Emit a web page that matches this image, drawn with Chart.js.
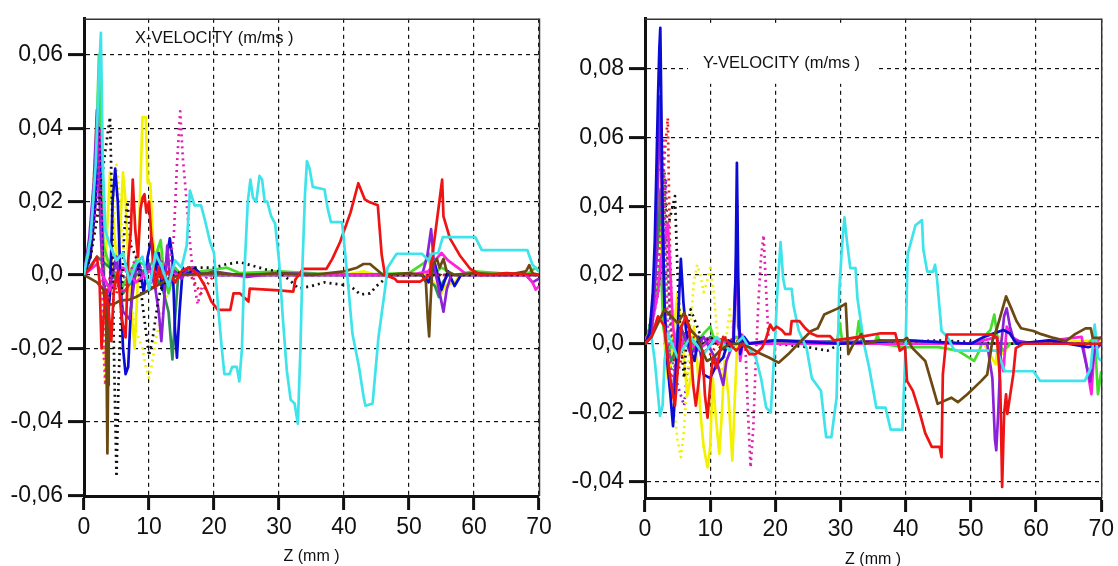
<!DOCTYPE html>
<html><head><meta charset="utf-8">
<script src="https://cdn.jsdelivr.net/npm/chart.js@4"></script>
<style>
html,body{margin:0;padding:0;background:#fff;overflow:hidden}
#wrap{position:relative;width:1118px;height:566px;background:#fff}
canvas{position:absolute;top:0}
#cL{left:0}
#cR{left:560px}
</style></head><body>
<div id="wrap"><canvas id="cL" width="560" height="566"></canvas><canvas id="cR" width="558" height="566"></canvas></div>
<script>
// ---------- tick values & labels ----------
const zTicks = [0,10,20,30,40,50,60,70];
const zTickLabels = ['0','10','20','30','40','50','60','70'];
const xvTicks = [-0.06,-0.04,-0.02,0,0.02,0.04,0.06];
const xvTickLabels = ['-0,06','-0,04','-0,02','0,0','0,02','0,04','0,06'];
const yvTicks = [-0.04,-0.02,0,0.02,0.04,0.06,0.08];
const yvTickLabels = ['-0,04','-0,02','0,0','0,02','0,04','0,06','0,08'];
const xvTitle = 'X-VELOCITY (m/ms )';
const yvTitle = 'Y-VELOCITY (m/ms )';
const zTitle = 'Z (mm )';

// ---------- X-VELOCITY series: [z (mm), v (m/ms)] ----------
const xCyan = [[0,0],[1,0.01],[1.8,0.03],[2.3,0.055],[2.6,0.066],[2.9,0.03],[3.3,0.012],[4,0.008],[5,0.004],[6,0.006],[7,-0.002],[8,0.003],[9,0.005],[10,-0.004],[11,0.006],[12,0.002],[13,-0.003],[14,0.004],[15,0.002],[15.8,0.008],[16.3,0.023],[17,0.019],[18,0.019],[18.6,0.015],[19.4,0.009],[20,0.006],[20.6,-0.008],[21.2,-0.02],[21.6,-0.027],[22.4,-0.027],[22.8,-0.025],[23.5,-0.025],[23.9,-0.029],[24.3,-0.02],[24.6,-0.002],[25.2,0.02],[25.6,0.026],[26,0.021],[26.5,0.02],[27,0.027],[27.4,0.026],[27.8,0.02],[28.2,0.02],[28.8,0.016],[29.4,0.014],[30,0.004],[30.6,-0.012],[31.2,-0.026],[31.8,-0.034],[32.4,-0.035],[32.9,-0.0405],[33.3,-0.02],[33.6,0.002],[34,0.022],[34.3,0.031],[34.7,0.029],[35.2,0.024],[37,0.0233],[37.5,0.018],[38,0.0144],[39.7,0.0144],[40.5,0],[41.3,-0.016],[42.3,-0.025],[43,-0.033],[43.3,-0.0356],[44.4,-0.035],[45.3,-0.017],[46.3,-0.004],[46.7,0.002],[48.1,0.0058],[52,0.0058],[53,0.004],[53.5,0.0058],[54.5,0.006],[55.2,0.0103],[60.2,0.0103],[61.2,0.0068],[68.2,0.0068],[69,0.0028],[70,0.001]];
const xRed = [[0,0],[1,0.002],[2,0.005],[2.4,-0.002],[2.7,-0.02],[3,-0.012],[3.4,-0.004],[3.8,-0.01],[4.2,-0.018],[4.6,-0.004],[5.2,0.001],[5.8,-0.012],[6.4,-0.017],[6.8,0.004],[7.2,0.012],[7.5,0.026],[7.9,0.012],[8.3,0.005],[8.7,0.018],[9,0.021],[9.3,0.022],[9.6,0.017],[10,0.02],[10.3,0.012],[10.6,0.004],[11,-0.003],[11.5,0.002],[12,-0.001],[13,0.001],[14,-0.002],[15,0.001],[16,0.002],[17,0.001],[17.6,0],[18.6,-0.003],[19.6,-0.0072],[20.6,-0.0095],[22.5,-0.0095],[23,-0.005],[24,-0.005],[25.3,-0.0072],[25.5,-0.0037],[30,-0.0042],[32.2,-0.0045],[32.5,-0.0013],[33.7,0.0017],[37.3,0.0017],[38.2,0.0044],[39.4,0.009],[41,0.017],[42.2,0.025],[43.2,0.0206],[44,0.0198],[45.2,0.019],[45.8,0.0055],[46.3,0],[47.8,-0.001],[48.2,-0.0018],[51.7,-0.0018],[53.2,0],[54.6,0.019],[55.1,0.026],[55.3,0.016],[56.3,0.01],[57.8,0.0054],[59.4,0.0017],[61,0],[65,0.0005],[70,0]];
const xBrown = [[0,0],[1,-0.001],[2,-0.002],[3,-0.004],[3.4,-0.01],[3.5,-0.03],[3.6,-0.0486],[3.7,-0.03],[3.8,-0.008],[4.5,-0.008],[5.5,-0.007],[7,-0.0067],[8,-0.006],[9.6,-0.0045],[11.7,-0.0024],[13,-0.001],[14.8,0],[20,0.0005],[25,0],[30,0.0005],[35,0],[40,0.001],[42,0.002],[43,0.003],[44,0.003],[45,0.0015],[46,0],[50,0.0005],[52,0],[52.6,-0.002],[52.9,-0.012],[53.1,-0.0167],[53.3,-0.008],[53.6,0.0027],[54.3,0.0044],[54.7,0.002],[55.3,0.0044],[55.8,0.001],[57,0],[60,0.0005],[65,0],[68,0.001],[68.5,0.0027],[69,0.0005],[70,0]];
const xBlackDot = [[0,0],[1,0.005],[2,0.015],[3,0.03],[3.6,0.038],[4,0.043],[4.3,0.02],[4.6,-0.02],[5,-0.055],[5.3,-0.03],[5.7,-0.01],[6.2,0.012],[6.7,0.02],[7.2,0.008],[8,0.005],[8.5,0],[9,-0.008],[9.5,-0.015],[10,-0.022],[10.5,-0.018],[11,-0.012],[11.5,-0.006],[12,-0.003],[13,-0.001],[14,0],[15,0.001],[16,0.002],[18,0.002],[20,0.002],[22,0.003],[24,0.0035],[26,0.0025],[28,0.0015],[30,0.001],[32,-0.002],[33,-0.0037],[35,-0.003],[37,-0.002],[39,-0.0025],[41,-0.003],[42.5,-0.0053],[44,-0.005],[45,-0.003],[47,0],[50,0],[70,0]];
const xYellow = [[0,0],[1,0.01],[1.5,0.025],[2,0.045],[2.3,0.03],[2.6,0.01],[3,-0.005],[3.5,0.01],[4,0.028],[4.5,0.015],[5,0.005],[5.5,0.01],[6,0.028],[6.4,0.02],[6.8,0.005],[7.3,-0.01],[7.8,-0.02],[8.2,-0.005],[8.6,0.02],[9,0.043],[9.5,0.043],[9.8,0.025],[10.2,0.025],[10.6,0.01],[11,0.003],[11.5,0.008],[12,-0.004],[13,0.002],[14,-0.002],[15,0.001],[17,0.001],[20,0],[30,0.0005],[40,0],[43,0.001],[45,0],[53,0],[55,-0.005],[55.5,-0.003],[57,-0.002],[58,0],[70,0]];
const xYellowDot = [[0,0],[1,0.005],[2,0.02],[2.5,0.035],[2.8,0.01],[3,-0.02],[3.2,-0.03],[3.5,-0.015],[4,-0.005],[4.5,0.01],[5,0.03],[5.5,0.02],[6,0.008],[7,-0.005],[8,-0.015],[9,-0.02],[9.5,-0.025],[10,-0.028],[10.5,-0.024],[11,-0.018],[12,-0.01],[13,-0.004],[14,0],[20,0],[70,0]];
const xBlue = [[0,0],[1,0.005],[1.8,0.02],[2.3,0.04],[2.6,0.02],[3,0],[3.5,-0.015],[4,-0.005],[4.4,0.02],[4.8,0.029],[5.2,0.02],[5.6,0],[6,-0.02],[6.4,-0.027],[6.8,-0.025],[7.2,-0.01],[7.6,0],[8.5,0.003],[9.2,-0.005],[9.8,0.005],[10.4,0.01],[11,0],[11.5,0.006],[12,-0.004],[12.5,0.002],[13.2,0.01],[13.6,0.005],[14,-0.015],[14.3,-0.0225],[14.7,-0.01],[15.2,0.002],[16,0],[17,0.002],[18,0],[30,0],[45,0],[52,0],[53,-0.002],[54,0.003],[55,-0.004],[56,0.001],[57,-0.003],[58,0],[70,0]];
const xPurple = [[0,0],[0.8,0.01],[1.5,0.025],[2,0.045],[2.4,0.02],[2.8,0.003],[3.2,-0.006],[4,-0.003],[5,0.005],[6,-0.01],[7,-0.012],[7.5,-0.005],[8,0.002],[9,0],[10,0.003],[11,-0.004],[11.5,-0.01],[11.9,-0.018],[12.3,-0.008],[12.8,0.008],[13.3,-0.002],[14,0.001],[15,-0.001],[16,0.002],[17,0.001],[18,0],[20,0.001],[25,-0.0005],[30,0.0005],[40,0],[50,0],[52,0],[52.8,0.005],[53.4,0.0125],[53.9,0.002],[54.5,-0.003],[55.3,-0.01],[55.8,-0.004],[56.5,0],[60,0],[68,0],[69,-0.002],[70,-0.001]];
const xGreen = [[0,0],[1,0.01],[1.8,0.03],[2.3,0.06],[2.6,0.03],[3,0.008],[4,0.002],[6,-0.003],[8,0.004],[10,0.002],[11,0.005],[11.8,0.0095],[12.2,0.002],[13,-0.005],[14,0.002],[15,0],[18,0.001],[20,0.0015],[22,0.002],[24,0.0005],[30,0.001],[40,0],[50,0.0005],[52.5,0.0035],[53,0.006],[53.5,0],[55,0.002],[57,0],[60,0.001],[68,0],[69.5,0.002],[70,0.001]];
const xSeaGreen = [[0,0],[2,0.005],[4,0.002],[6,-0.005],[8,0],[10,0.002],[12,-0.003],[13,-0.01],[13.6,-0.023],[14,-0.012],[14.5,0],[16,0.001],[20,0],[40,0],[52,0],[54,-0.003],[54.6,-0.006],[55.2,-0.002],[56,0],[70,0]];
const xMagentaDot = [[0,0],[1,0.005],[2,0.02],[2.5,0.04],[2.8,0.01],[3,-0.02],[3.3,-0.03],[3.6,-0.01],[4,0],[6,-0.005],[8,0.005],[10,-0.003],[12,0.004],[13,0.002],[13.8,0.01],[14.3,0.03],[14.8,0.0446],[15.2,0.032],[15.6,0.024],[16,0.015],[16.5,0.005],[17,-0.003],[17.5,-0.008],[18,-0.004],[19,0],[25,0],[70,0]];
const xMagenta = [[0,0],[2,0.003],[4,-0.004],[6,0.002],[8,-0.002],[10,0.001],[15,0],[30,0],[50,0],[53,0.001],[54,0.004],[55,0.006],[56,0.004],[57.5,0.002],[59,0],[68,0],[69,-0.002],[69.5,-0.004],[70,-0.003]];
const xRedDot = [[0,0],[1,0.005],[2,0.02],[2.5,0.035],[2.8,0.01],[3,-0.015],[3.3,-0.025],[3.6,-0.01],[4.2,0.005],[5,-0.005],[6,0.002],[8,0],[11,-0.004],[12,0.002],[14,-0.002],[16,0.001],[18,-0.005],[20,0],[70,0]];
const xPurpleDot = [[0,0],[1,0.008],[1.7,0.025],[2.2,0.04],[2.5,0.02],[2.9,-0.01],[3.3,-0.022],[3.7,-0.008],[4.5,0.005],[5.5,-0.004],[6.5,0.003],[8,-0.002],[10,0.002],[12,-0.003],[14,0.001],[16,0],[70,0]];
const xGreenDot = [[0,0],[1,0.01],[1.8,0.035],[2.3,0.05],[2.6,0.025],[3,0.005],[3.5,-0.01],[4,-0.005],[5,0.003],[7,-0.003],[9,0.002],[12,0],[70,0]];

// ---------- Y-VELOCITY series: [z (mm), v (m/ms)] ----------
const yBlue = [[0,0],[0.7,0.003],[1.2,0.015],[1.5,0.03],[1.8,0.055],[2,0.072],[2.2,0.086],[2.35,0.092],[2.5,0.07],[2.7,0.04],[3,0.01],[3.4,-0.005],[3.9,-0.015],[4.3,-0.024],[4.7,-0.012],[5.1,0.008],[5.5,0.0247],[5.9,0.012],[6.3,0.004],[7,-0.002],[7.6,-0.005],[8.2,0.002],[9,-0.009],[10,-0.01],[11,-0.006],[12,-0.004],[12.8,0.001],[13.6,0],[13.9,0.02],[14.1,0.0527],[14.3,0.02],[14.6,-0.003],[15.2,0.002],[16,0],[20,0.001],[30,0],[40,0.001],[50,0],[52,0.002],[55,0.004],[56,0.003],[57,0],[62,0.001],[68,-0.001],[70,0]];
const yPurple = [[0,0],[1,0.002],[1.6,0.02],[2,0.05],[2.3,0.072],[2.6,0.04],[3,0.01],[3.5,-0.005],[4.2,-0.015],[4.6,-0.008],[5.5,0.005],[7,-0.003],[9,0.002],[11,-0.005],[12,-0.012],[12.5,-0.005],[13.5,0],[14.1,0.03],[14.3,0.005],[15,0],[20,0.001],[30,0.0005],[40,0.001],[50,0],[52.5,0],[53.3,-0.01],[53.7,-0.028],[53.9,-0.031],[54.2,-0.02],[54.6,-0.001],[55.1,0.008],[55.5,0.0103],[56,0.005],[56.6,0.001],[60,0],[67,0],[68.3,-0.011],[69,-0.002],[70,0]];
const yCyan = [[0,0],[1,0.002],[1.5,-0.005],[2,-0.015],[2.3,-0.021],[2.7,-0.018],[3,-0.005],[3.5,0.003],[5,-0.004],[7,0.002],[9,-0.003],[11,0.002],[13,-0.002],[15,0.002],[16.2,-0.002],[17,-0.004],[17.8,-0.01],[18.6,-0.0186],[19.3,-0.02],[19.9,-0.001],[20.3,0.015],[20.8,0.0296],[21.2,0.019],[21.5,0.016],[22.5,0.016],[22.8,0.011],[23.6,0.0037],[24.8,-0.0013],[25.6,-0.01],[27,-0.0137],[27.6,-0.024],[27.8,-0.0272],[28.6,-0.0272],[29.4,-0.0157],[29.8,0.015],[30.2,0.0276],[30.6,0.0368],[31,0.0296],[31.5,0.022],[32.3,0.022],[32.6,0.0132],[33.6,0],[34.4,-0.007],[35.5,-0.0186],[36.9,-0.0186],[37.7,-0.025],[39.5,-0.025],[40,0],[40.3,0.026],[41.5,0.0345],[42.5,0.036],[42.7,0.0276],[43.3,0.021],[44.2,0.021],[44.5,0.023],[44.8,0.019],[45.5,0.0037],[46.4,0.002],[47.5,-0.002],[51,-0.002],[54,-0.002],[55.2,-0.008],[59.6,-0.008],[60.6,-0.0108],[67.5,-0.0108],[68.4,-0.007],[69,0.0056],[69.5,-0.004],[70,-0.005]];
const yRed = [[0,0],[1,0.002],[2,0.008],[3,0.005],[3.5,-0.005],[4,-0.012],[4.6,-0.018],[5,-0.008],[5.6,0.005],[6.3,0.008],[6.8,0.004],[7.4,-0.012],[7.8,-0.018],[8.3,-0.01],[8.8,-0.002],[9.2,-0.015],[9.6,-0.0215],[10,-0.012],[10.4,-0.004],[11,-0.007],[11.5,-0.002],[12,0.002],[13,0],[14,-0.002],[15,0],[16,-0.003],[17,-0.003],[18,-0.001],[18.6,0.0017],[19.2,0.0056],[19.7,0.004],[20.2,0.005],[21,0.004],[21.5,0.0028],[22.3,0.0028],[22.5,0.0066],[23.7,0.0066],[24.6,0.0045],[25.5,0.003],[26.5,0.0022],[28.4,0.0022],[29,0.001],[33,0.002],[36,0.003],[38.4,0.003],[39.1,-0.002],[39.9,-0.001],[40.2,-0.0108],[41.1,-0.0137],[42.2,-0.0204],[43,-0.026],[44,-0.03],[45.2,-0.03],[45.5,-0.033],[45.7,-0.009],[46.3,0.0027],[53.1,0.0027],[54,0.0017],[54.5,-0.011],[54.8,-0.0417],[55.1,-0.0204],[55.4,-0.0147],[55.6,-0.0204],[56.2,-0.0128],[56.5,-0.009],[56.9,-0.0013],[58,0],[70,0]];
const yBrown = [[0,0],[1,0.002],[2,0.006],[3,0.01],[4,0.008],[5,0.006],[6,0.009],[7,0.004],[8,0.002],[9,-0.003],[9.5,-0.005],[10.5,-0.004],[11.5,-0.002],[13,0],[14.5,0],[16,-0.001],[17.5,-0.0027],[19,-0.004],[20.5,-0.0055],[22,-0.003],[23,-0.001],[25.5,0.0037],[26.5,0.0045],[27.5,0.0085],[29.6,0.0103],[30.8,0.0117],[31.2,-0.003],[32,0],[33.2,0.0028],[33.8,0],[36,0.001],[39.5,0.0008],[40.2,0.0017],[41,-0.0012],[43,-0.005],[44.9,-0.0175],[47,-0.0157],[48,-0.017],[49.5,-0.0146],[51.6,-0.0108],[52.5,-0.009],[53.3,0.0008],[54,0.0045],[55.4,0.0138],[56.2,0.0103],[57,0.0066],[57.7,0.0045],[59.6,0.0037],[60.8,0.0028],[62.7,0.0017],[64.6,0.0008],[66,0.0028],[67.6,0.0045],[68.4,0.0045],[68.7,0.0017],[70,0.0017]];
const yGreen = [[0,0],[0.5,0.003],[1,0.008],[1.5,0.012],[2,0.017],[2.4,0.025],[2.8,0.005],[3.5,-0.003],[5,0.004],[7,-0.002],[9,0.003],[10,0.005],[10.5,0.002],[12,-0.001],[14,0.002],[16,0],[20,0.0005],[25,0],[29.5,0.001],[29.9,0.006],[30.3,0],[31,0.001],[32.5,0.002],[32.8,0.0066],[33.2,0.001],[35.2,0],[35.7,0.0028],[36,0],[40,-0.001],[45,-0.001],[48,-0.002],[50.5,-0.005],[51.3,-0.002],[52,0.002],[53,0.004],[53.6,0.0085],[54.2,0],[55,-0.002],[56,0],[60,0.0005],[68,0],[69,0.002],[69.5,-0.0147],[70,-0.008]];
const yYellow = [[0,0],[1,0.005],[1.5,0.015],[2,0.04],[2.3,0.05],[2.6,0.02],[3,0],[3.5,-0.01],[4,-0.005],[4.5,0.005],[5,0.015],[5.5,0.005],[6,-0.005],[6.5,-0.015],[7,-0.01],[7.5,0.005],[8,-0.005],[8.5,-0.02],[9,-0.03],[9.6,-0.036],[10,-0.03],[10.4,-0.01],[10.8,-0.02],[11.4,-0.032],[11.8,-0.02],[12.2,-0.005],[12.8,-0.015],[13.4,-0.034],[13.8,-0.015],[14.2,0.002],[15,0],[20,0.001],[30,0],[40,0.0005],[52,0],[53.8,-0.006],[54.3,0.002],[55,-0.003],[56,0],[70,0.001]];
const yYellowDot = [[0,0],[1,0.005],[2,0.02],[2.5,0.04],[3,0.02],[3.5,0],[4,-0.01],[4.5,-0.02],[5,-0.028],[5.5,-0.033],[6,-0.025],[6.5,-0.01],[7,0.005],[7.5,0.018],[8,0.023],[8.5,0.02],[9,0.015],[9.5,0.018],[10,0.022],[10.5,0.016],[11,0.005],[11.5,-0.005],[12,-0.01],[12.5,0.002],[13,0.01],[13.5,0.003],[14,0],[20,0],[70,0]];
const yMagentaDot = [[0,0],[1,0.005],[2,0.02],[2.5,0.04],[2.8,0.06],[3.1,0.03],[3.5,0.005],[4,-0.01],[5,-0.005],[6,0.003],[8,0],[10,0.002],[12,-0.002],[14,0],[15,0.003],[15.4,0],[15.8,-0.02],[16.2,-0.036],[16.6,-0.025],[17,-0.005],[17.4,0.012],[17.8,0.025],[18.2,0.0316],[18.6,0.015],[19,0],[20,0],[70,0]];
const yRedDot = [[0,0],[1,0.005],[2,0.02],[2.6,0.04],[3,0.055],[3.5,0.0657],[3.8,0.03],[4.2,0.005],[4.8,-0.01],[5.5,-0.005],[6.5,0.005],[8,0],[10,-0.003],[12,0.002],[15,0],[20,0],[70,0]];
const yBlackDot = [[0,0],[1,0.005],[2,0.015],[3,0.03],[4,0.038],[4.6,0.043],[5,0.02],[5.5,0],[6,-0.01],[6.5,0.005],[7,0.01],[8,0.005],[9,0],[10,0.002],[12,-0.002],[14,0.001],[16,0],[20,0],[25,-0.001],[28,-0.002],[30,0],[40,0.0005],[45,0.001],[55,0],[70,0]];
const yMagenta = [[0,0],[1,0.005],[2,0.015],[2.5,0.025],[3,0.03],[3.5,0.035],[3.9,0.02],[4.3,0.005],[5,-0.005],[6,0.002],[8,-0.002],[10,0.001],[13.5,0],[14,0.02],[14.1,0.042],[14.3,0.01],[14.6,-0.005],[15,0],[20,0],[40,0],[50,0],[54,0.002],[55,-0.008],[55.5,0.005],[56.3,0.002],[58,0],[67,0.002],[68.5,-0.0147],[69,0],[70,0.002]];
const ySeaGreen = [[0,0],[1,0.005],[2,0.03],[2.4,0.045],[2.8,0.02],[3.2,0.002],[4,-0.005],[6,0.003],[8,-0.002],[10,0.002],[14,0],[70,0]];
const yGreenDot = [[0,0],[1,0.008],[1.8,0.03],[2.3,0.05],[2.7,0.055],[3,0.03],[3.4,0.005],[4,-0.008],[5,0.002],[7,-0.002],[10,0.002],[14,0],[70,0]];
const yBrownDot = [[0,0],[1,0.006],[2,0.025],[2.6,0.045],[3,0.05],[3.3,0.03],[3.8,0.01],[4.5,-0.005],[6,0.003],[8,0],[70,0]];
const yPurpleDot = [[0,0],[1,0.004],[2,0.018],[2.8,0.035],[3.2,0.048],[3.6,0.02],[4,0],[5,-0.012],[6,-0.018],[6.5,-0.008],[8,0],[70,0]];

// ---------- styles ----------
const C = {cyan:'#3FE3EA', red:'#EE1414', brown:'#6B4A12', blue:'#0B0BD6', yellow:'#F2F200', green:'#45DC2E', sea:'#2E8B57', purple:'#8B22D8', magenta:'#FF22DD', pinkDot:'#E020B0', black:'#111111'};

const leftSeries = [
  [xCyan, C.cyan, false], [xRed, C.red, false], [xBrown, C.brown, false],
  [xBlackDot, C.black, true], [xMagentaDot, C.pinkDot, true], [xMagenta, C.magenta, false],
  [xPurple, C.purple, false], [xBlue, C.blue, false], [xSeaGreen, C.sea, false],
  [xGreen, C.green, false], [xYellow, C.yellow, false], [xYellowDot, C.yellow, true], [xRedDot, C.red, true],
  [xPurpleDot, C.purple, true], [xGreenDot, C.sea, true]
];
const rightSeries = [
  [yRed, C.red, false], [yBrown, C.brown, false], [yCyan, C.cyan, false],
  [yBlue, C.blue, false], [yPurple, C.purple, false], [yMagenta, C.magenta, false],
  [yBlackDot, C.black, true], [yMagentaDot, C.pinkDot, true], [yRedDot, C.red, true],
  [yGreen, C.green, false], [ySeaGreen, C.sea, false], [yYellow, C.yellow, false], [yYellowDot, C.yellow, true],
  [yGreenDot, C.sea, true], [yBrownDot, C.brown, true], [yPurpleDot, C.purple, true]
];

const FONT = '"Liberation Sans", Arial, sans-serif';

function makeChart(canvas, series, cfg) {
  const datasets = series.map(([pts, color, dotted]) => ({
    data: pts.map(([x, y]) => ({x, y})),
    borderColor: color,
    borderWidth: 2.7,
    borderDash: dotted ? [2, 4] : [],
    borderJoinStyle: 'round',
    pointRadius: 0,
    tension: 0,
    fill: false
  }));
  const decor = {
    id: 'decor',
    beforeDatasetsDraw(chart) {
      const {ctx, chartArea: a} = chart;
      ctx.save();
      ctx.strokeStyle = '#333';
      ctx.lineWidth = 1.5;
      ctx.beginPath();
      ctx.moveTo(a.left, a.top + 0.5);
      ctx.lineTo(a.right + 0.5, a.top + 0.5);
      ctx.lineTo(a.right + 0.5, a.bottom);
      ctx.stroke();
      ctx.font = '16.5px ' + FONT;
      const w = ctx.measureText(cfg.title).width;
      if (cfg.titleBox) {
        ctx.fillStyle = '#fff';
        ctx.fillRect(cfg.titleX - 15, a.top + 5, w + 32, 60);
      }
      ctx.fillStyle = '#111';
      ctx.textBaseline = 'alphabetic';
      ctx.textAlign = 'left';
      ctx.fillText(cfg.title, cfg.titleX, cfg.titleY);
      ctx.font = '16px ' + FONT;
      ctx.textAlign = 'center';
      ctx.fillText(zTitle, (a.left + a.right) / 2, cfg.zTitleY);
      ctx.restore();
    }
  };
  return new Chart(canvas, {
    type: 'line',
    data: {datasets},
    plugins: [decor],
    options: {
      responsive: false,
      animation: false,
      events: [],
      layout: {padding: {left: 0, top: 15, right: cfg.padRight, bottom: 0}},
      plugins: {legend: {display: false}, tooltip: {enabled: false}, title: {display: false}},
      scales: {
        x: {
          type: 'linear', min: 0, max: 70,
          afterBuildTicks: s => { s.ticks = zTicks.map(v => ({value: v})); },
          afterFit: s => { s.height = cfg.xHeight; },
          ticks: {callback: (v, i) => zTickLabels[i], color: '#111', font: {family: FONT, size: 23}, padding: 4, maxRotation: 0, autoSkip: false},
          grid: {color: '#111', lineWidth: 1.2, tickLength: 14, tickWidth: 3, tickColor: '#111', tickBorderDash: []},
          border: {display: true, width: 3, color: '#111', dash: [4, 4]}
        },
        y: {
          type: 'linear', min: cfg.yMin, max: cfg.yMax,
          afterBuildTicks: s => { s.ticks = cfg.yTicks.map(v => ({value: v})); },
          afterFit: s => { s.width = cfg.yWidth; },
          ticks: {callback: (v, i) => cfg.yLabels[i], color: '#111', font: {family: FONT, size: 23}, padding: 5, autoSkip: false},
          grid: {color: '#111', lineWidth: 1.2, tickLength: 16, tickWidth: 3, tickColor: '#111', tickBorderDash: []},
          border: {display: true, width: 3, color: '#111', dash: [4, 4]}
        }
      }
    }
  });
}

makeChart(document.getElementById('cL'), leftSeries, {
  yMin: -0.0602, yMax: 0.0698, yTicks: xvTicks, yLabels: xvTickLabels,
  padRight: 21, xHeight: 70, yWidth: 84,
  title: xvTitle, titleX: 135, titleY: 43, titleBox: false, zTitleY: 561
});
makeChart(document.getElementById('cR'), rightSeries, {
  yMin: -0.0449, yMax: 0.0946, yTicks: yvTicks, yLabels: yvTickLabels,
  padRight: 13, xHeight: 68, yWidth: 85,
  title: yvTitle, titleX: 143, titleY: 68, titleBox: true, zTitleY: 564
});
</script>
</body></html>
